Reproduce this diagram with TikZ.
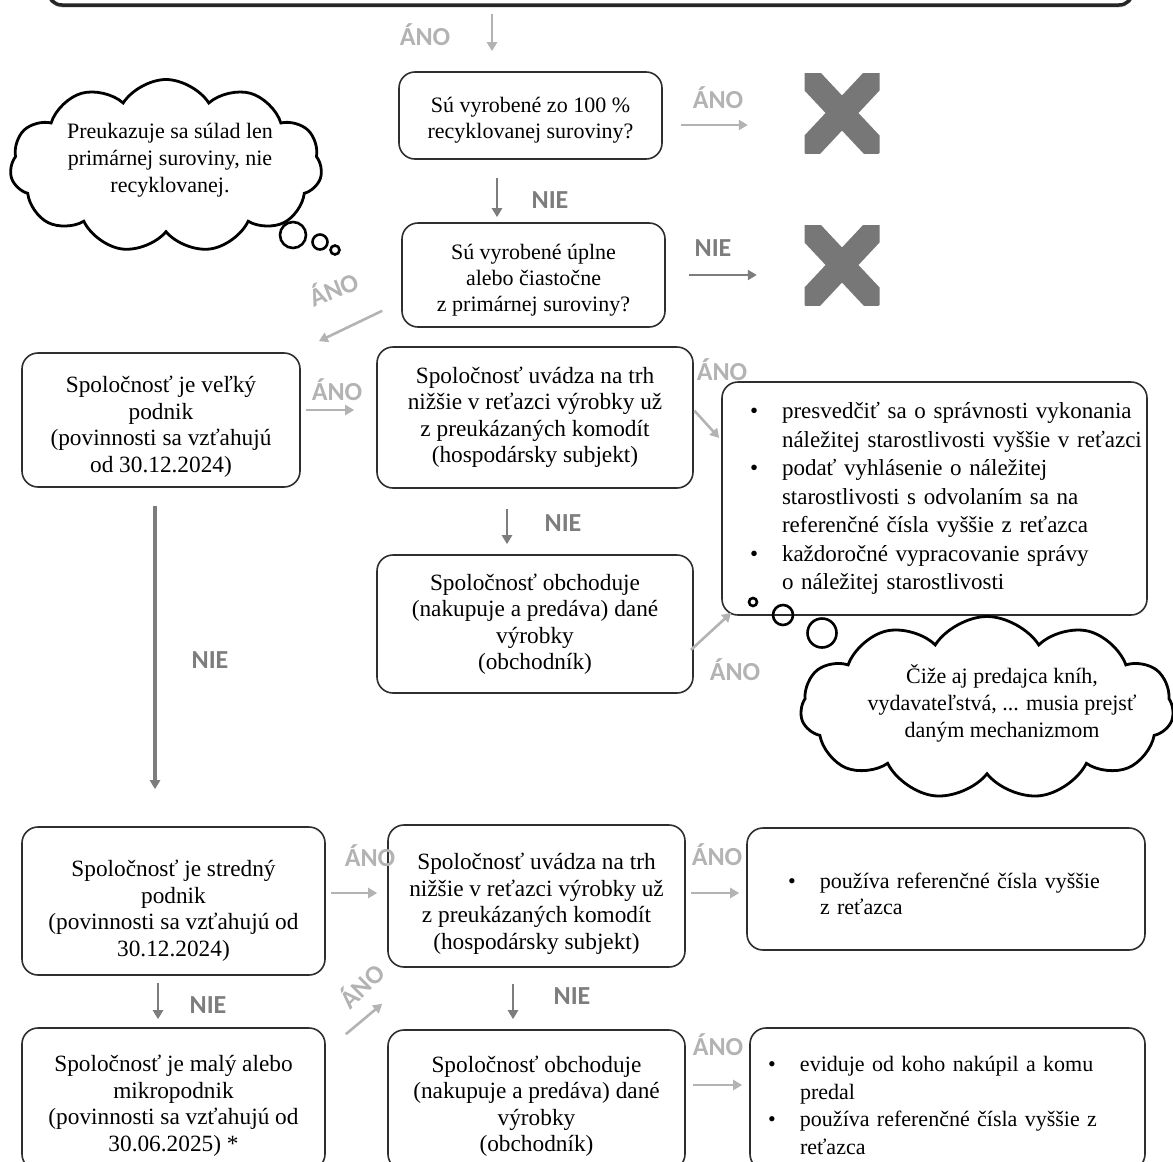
\documentclass[tikz,border=0pt]{standalone}
\usepackage{fontspec}
\setmainfont{Liberation Serif}
\newfontfamily\labfont{Carlito}
\usetikzlibrary{shapes.symbols,arrows.meta,shadows}
\definecolor{anoc}{HTML}{B3B3B3}
\definecolor{niec}{HTML}{7D7D7D}
\definecolor{xc}{HTML}{777777}
\definecolor{boxc}{HTML}{2E2E2E}
\newcommand\bl[1]{\mbox{\makebox[32pt][l]{\textbullet}#1}}
\newcommand\cl[1]{\mbox{\hspace*{32pt}#1}}
\newcommand\tpstrut[1]{\rule{0pt}{#1pt}}
\begin{document}
\begin{tikzpicture}[x=1pt,y=-1pt,
  box/.style={draw=boxc,line width=1.6pt,rounded corners=16pt,align=center,
    font=\fontsize{22}{26}\selectfont,inner sep=0pt},
  bigbox/.style={box,font=\fontsize{23.3}{26.5}\selectfont},
  lbox/.style={box,align=left},
  anol/.style={font=\labfont\bfseries\fontsize{26}{26}\selectfont,text=anoc,inner sep=0pt},
  niel/.style={font=\labfont\bfseries\fontsize{26}{26}\selectfont,text=niec,inner sep=0pt},
  anoarr/.style={draw=anoc,line width=2.6pt,-{Triangle[length=9pt,width=10pt]}},
  niearr/.style={draw=niec,line width=2.8pt,-{Triangle[length=9pt,width=10pt]}},
  cloudsh/.style={cloud,draw=black,line width=2.8pt,cloud puffs=11,cloud puff arc=115,inner sep=0pt},
  ctext/.style={align=center,font=\fontsize{22}{27}\selectfont,inner sep=0pt},
  bub/.style={circle,draw=black,line width=2.6pt,inner sep=0pt,minimum size=#1},
  xmark/.style={minimum width=75pt,minimum height=80pt,inner sep=0pt,
    path picture={\draw[xc,line width=24pt]
      (path picture bounding box.north west)--(path picture bounding box.south east)
      (path picture bounding box.north east)--(path picture bounding box.south west);}}
]
\useasboundingbox (0,0) rectangle (1173,1162);
\clip (0,0) rectangle (1173,1162);

% banner (cut off at the top)
\node[draw=black!85,line width=3.5pt,rounded corners=14pt,minimum width=1085pt,minimum height=80pt,
  drop shadow={opacity=0.35,shadow xshift=0pt,shadow yshift=-2.5pt},fill=white] (banner) at (590.5,-35) {};

% boxes
\node[box,minimum width=263pt,minimum height=87pt] (b1) at (530.5,115.5)
  {\tpstrut{25}Sú vyrobené zo 100 \%\\recyklovanej suroviny?};
\node[box,minimum width=263pt,minimum height=104pt] (b2) at (533.5,275)
  {\tpstrut{25}Sú vyrobené úplne\\alebo čiastočne\\z primárnej suroviny?};
\node[bigbox,minimum width=278pt,minimum height=134pt] (b3) at (161,420)
  {\tpstrut{30}Spoločnosť je veľký\\podnik\\(povinnosti sa vzťahujú\\od 30.12.2024)};
\node[bigbox,minimum width=316pt,minimum height=141pt] (b4) at (535,417.5)
  {Spoločnosť uvádza na trh\\nižšie v reťazci výrobky už\\z preukázaných komodít\\(hospodársky subjekt)};
\node[bigbox,minimum width=316pt,minimum height=138pt] (b5) at (535,624)
  {Spoločnosť obchoduje\\(nakupuje a predáva) dané\\výrobky\\(obchodník)};
\node[lbox,font=\fontsize{23}{28.5}\selectfont,minimum width=425pt,minimum height=233pt,text width=369pt,inner xsep=28pt] (b6) at (934.5,498.5)
  {\bl{presvedčiť sa o správnosti vykonania}\\
   \cl{náležitej starostlivosti vyššie v reťazci}\\
   \bl{podať vyhlásenie o náležitej}\\
   \cl{starostlivosti s odvolaním sa na}\\
   \cl{referenčné čísla vyššie z reťazca}\\
   \bl{každoročné vypracovanie správy}\\
   \cl{o náležitej starostlivosti}};
\node[bigbox,minimum width=303pt,minimum height=148pt] (b7) at (173.5,901)
  {\tpstrut{36}Spoločnosť je stredný\\podnik\\(povinnosti sa vzťahujú od\\30.12.2024)};
\node[bigbox,minimum width=303pt,minimum height=142pt] (b8) at (173.5,1099)
  {\tpstrut{30}Spoločnosť je malý alebo\\mikropodnik\\(povinnosti sa vzťahujú od\\30.06.2025) *};
\node[bigbox,minimum width=297pt,minimum height=142pt] (b9) at (536.5,896)
  {\tpstrut{32}Spoločnosť uvádza na trh\\nižšie v reťazci výrobky už\\z preukázaných komodít\\(hospodársky subjekt)};
\node[bigbox,minimum width=297pt,minimum height=140pt] (b10) at (536.5,1100)
  {\tpstrut{29}Spoločnosť obchoduje\\(nakupuje a predáva) dané\\výrobky\\(obchodník)};
\node[lbox,minimum width=398pt,minimum height=122pt,text width=316pt,inner xsep=41pt] (b11) at (946,889)
  {\tpstrut{25}\bl{používa referenčné čísla vyššie}\\
   \cl{z reťazca}};
\node[lbox,font=\fontsize{22}{27.5}\selectfont,minimum width=395pt,minimum height=142pt,text width=359pt,inner xsep=18pt] (b12) at (947.5,1099)
  {\tpstrut{28}\bl{eviduje od koho nakúpil a komu}\\
   \cl{predal}\\
   \bl{používa referenčné čísla vyššie z}\\
   \cl{reťazca}};

% crosses
\node[xmark] (x1) at (842,113) {};
\node[xmark] (x2) at (842,265) {};

% clouds
\node[cloudsh,aspect=1.8,minimum width=312pt,minimum height=173pt] (c1) at (166,166) {};
\node[ctext] (c1t) at (170,160) {Preukazuje sa súlad len\\primárnej suroviny, nie\\recyklovanej.};
\node[bub=26pt] (c1a) at (293,235) {};
\node[bub=15pt] (c1b) at (320,242) {};
\node[bub=9pt] (c1c) at (335,250) {};

\node[cloudsh,aspect=2,fill=white,minimum width=373pt,minimum height=183pt] (c2) at (987,708) {};
\node[ctext] (c2t) at (1002,703) {Čiže aj predajca kníh,\\vydavateľstvá, ... musia prejsť\\daným mechanizmom};
\node[bub=8pt] (c2a) at (753,602) {};
\node[bub=20pt] (c2b) at (783,615) {};
\node[bub=29pt] (c2c) at (822,633) {};

% helper x positions
\coordinate (tA) at (492,0);
\coordinate (tB) at (497,0);
\coordinate (tC) at (507,0);
\coordinate (tD) at (155,0);
\coordinate (tE) at (158,0);
\coordinate (tF) at (513,0);

% connectors
\draw[anoarr,shorten <=7pt,shorten >=20pt] (banner.south -| tA) -- (b1.north -| tA);
\draw[anoarr,shorten <=18pt,shorten >=56.5pt] ([yshift=-9.5pt]b1.east) -- ([yshift=-9.5pt]b1.east -| x1.west);
\draw[niearr,shorten <=18pt,shorten >=5pt] (b1.south -| tB) -- (b2.north -| tB);
\draw[niearr,shorten <=23pt,shorten >=47.5pt] (b2.east) -- (b2.east -| x2.west);
\draw[anoarr] ([xshift=-19pt,yshift=17pt]b2.south west) -- ([xshift=18pt,yshift=11pt]b3.north east);
\draw[anoarr,shorten <=5pt,shorten >=22pt] ([yshift=10pt]b3.east) -- ([yshift=10pt]b3.east -| b4.west);
\draw[niearr,shorten <=20pt,shorten >=10pt] (b4.south -| tC) -- (b5.north -| tC);
\draw[anoarr,shorten <=1pt] ([yshift=7.5pt]b4.east) -- ([xshift=-2pt,yshift=60.5pt]b6.west);
\draw[anoarr] ([xshift=-3pt,yshift=-26pt]b5.east) -- ([xshift=10pt,yshift=3pt]b6.south west);
\draw[niearr,line width=3.2pt,shorten <=18pt,shorten >=37pt] (b3.south -| tD) -- (b7.north -| tD);
\draw[niearr,shorten <=7pt,shorten >=8pt] (b7.south -| tE) -- (b8.north -| tE);
\draw[anoarr,shorten <=5pt,shorten >=10pt] ([yshift=8pt]b7.east) -- ([yshift=8pt]b7.east -| b9.west);
\draw[anoarr] ([xshift=20pt,yshift=-7pt]b8.north east) -- ([xshift=-5pt,yshift=-36pt]b9.south west);
\draw[niearr,shorten <=16pt,shorten >=10pt] (b9.south -| tF) -- (b10.north -| tF);
\draw[anoarr,shorten <=5pt,shorten >=7pt] ([yshift=3pt]b9.east) -- ([yshift=3pt]b9.east -| b11.west);
\draw[anoarr,shorten <=7pt,shorten >=7pt] ([yshift=15pt]b10.east) -- ([yshift=15pt]b10.east -| b12.west);

% labels
\node[anol] (l1) at (425,35) {ÁNO};
\node[anol] (l2) at (718,98) {ÁNO};
\node[niel] (l3) at (550,200) {NIE};
\node[niel] (l4) at (713,248) {NIE};
\node[anol,rotate=22] (l5) at (333,288) {ÁNO};
\node[anol] (l6) at (337,390) {ÁNO};
\node[anol] (l7) at (722,370) {ÁNO};
\node[niel] (l8) at (563,523) {NIE};
\node[anol] (l9) at (735,670) {ÁNO};
\node[niel] (l10) at (210,660) {NIE};
\node[anol] (l11) at (370,856) {ÁNO};
\node[niel] (l12) at (208,1005) {NIE};
\node[anol,rotate=45] (l13) at (361,985) {ÁNO};
\node[niel] (l14) at (572,996) {NIE};
\node[anol] (l15) at (717,855) {ÁNO};
\node[anol] (l16) at (718,1045) {ÁNO};
\end{tikzpicture}
\end{document}
